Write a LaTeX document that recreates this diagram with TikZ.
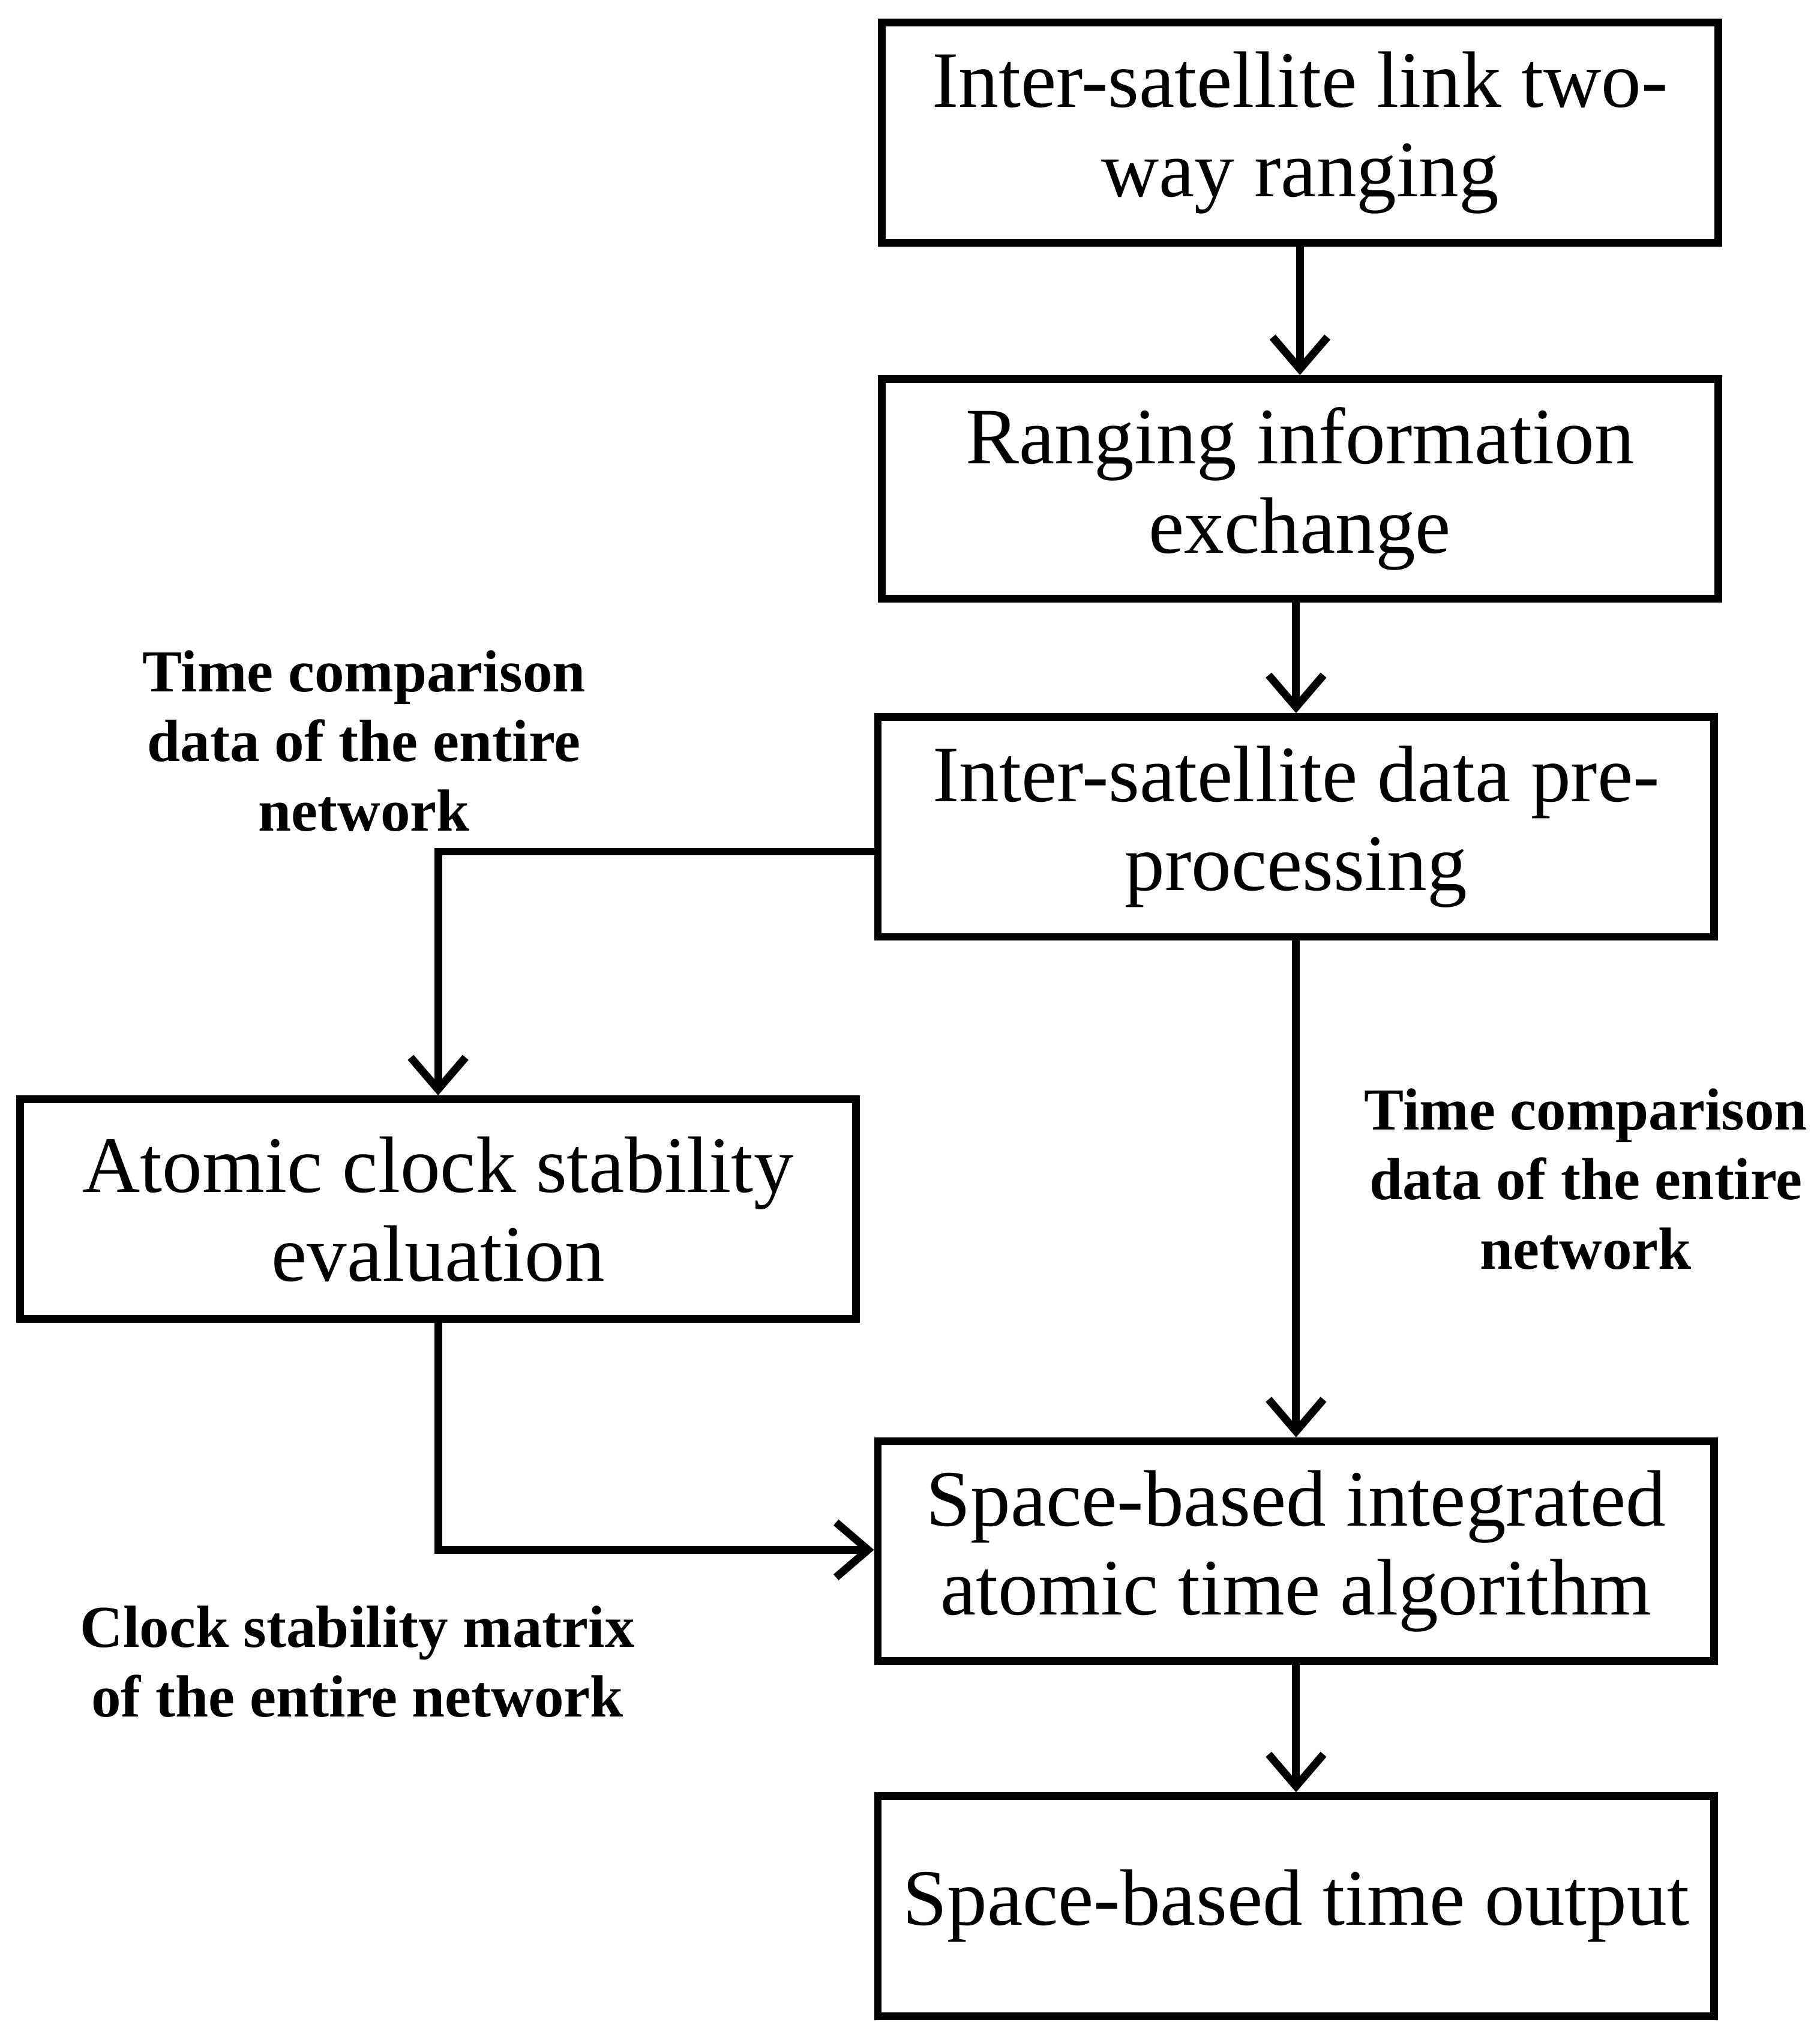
\documentclass[tikz,border=0pt]{standalone}
\usepackage{fontspec}
\setmainfont{Liberation Serif}
\usetikzlibrary{arrows.meta}
\begin{document}
\begin{tikzpicture}[x=0.01cm,y=-0.01cm,
 box/.style={draw,line width=1.7pt,minimum width=6.43cm,minimum height=1.69cm,align=center,font=\fontsize{17.5}{19.5}\selectfont,inner sep=0pt},
 lab/.style={align=center,font=\fontsize{13}{15.2}\selectfont\bfseries},
 arr/.style={line width=1.7pt,-{Straight Barb[length=7pt,width=12pt,line width=1.7pt]}}]
\useasboundingbox (0,0) rectangle (1400,1569);
\node[box] (b1) at (1000,102) {Inter-satellite link two-\\way ranging};
\node[box] (b2) at (1000,376) {Ranging information\\exchange};
\node[box] (b3) at (997,636) {Inter-satellite data pre-\\processing};
\node[box] (b4) at (337,930) {Atomic clock stability\\evaluation};
\node[box] (b5) at (997,1193) {Space-based integrated\\atomic time algorithm};
\node[box] (b6) at (997,1466) {Space-based time output};
\draw[arr] (b1) -- (b2);
\draw[arr] (b2.south -| b3) -- (b3);
\draw[arr] (b3.west |- 0,655) -| (b4.north);
\draw[arr] (b3) -- (b5);
\draw[arr] (b4.south) |- (b5.west |- 0,1192);
\draw[arr] (b5) -- (b6);
\node[lab] (l1) at (280,570) {Time comparison\\data of the entire\\network};
\node[lab] (l2) at (1220,907) {Time comparison\\data of the entire\\network};
\node[lab] (l3) at (275,1278) {Clock stability matrix\\of the entire network};
\end{tikzpicture}
\end{document}
